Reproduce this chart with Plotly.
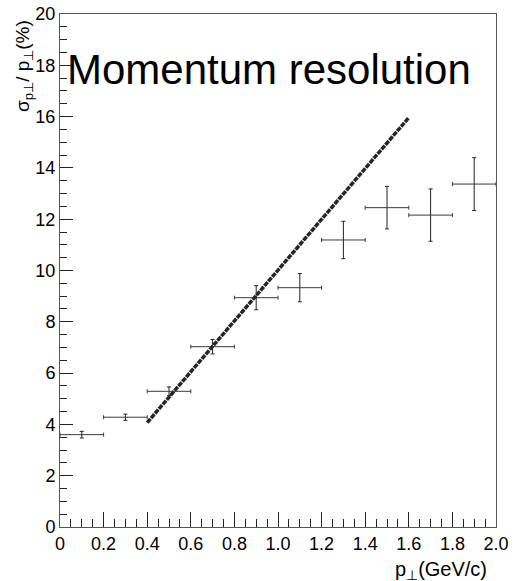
import plotly.graph_objects as go

# Data
bin_centers = [0.1, 0.3, 0.5, 0.7, 0.9, 1.1, 1.3, 1.5, 1.7, 1.9]
bin_half_width = [0.1] * 10
resolution = [3.60, 4.28, 5.29, 7.03, 8.94, 9.33, 11.19, 12.45, 12.16, 13.37]
resolution_err = [0.13, 0.12, 0.17, 0.28, 0.47, 0.55, 0.73, 0.83, 1.02, 1.03]

fit_x = [0.4, 1.6]
fit_y = [4.07, 15.96]

x_tickvals = [0, 0.2, 0.4, 0.6, 0.8, 1.0, 1.2, 1.4, 1.6, 1.8, 2.0]
x_ticktext = ["0", "0.2", "0.4", "0.6", "0.8", "1.0", "1.2", "1.4", "1.6", "1.8", "2.0"]
y_tickvals = [0, 2, 4, 6, 8, 10, 12, 14, 16, 18, 20]
y_ticktext = ["0", "2", "4", "6", "8", "10", "12", "14", "16", "18", "20"]

FONT = "Liberation Sans, Arial, Helvetica, sans-serif"

fig = go.Figure()
fig.add_trace(go.Scatter(
    x=bin_centers, y=resolution, mode="markers",
    marker=dict(size=1, color="rgba(0,0,0,0)"),
    error_x=dict(type="data", array=bin_half_width, color="#3a3a3a", thickness=1, width=2),
    error_y=dict(type="data", array=resolution_err, color="#222222", thickness=1, width=2),
    showlegend=False, hoverinfo="skip",
))
fig.add_trace(go.Scatter(
    x=fit_x, y=fit_y, mode="lines",
    line=dict(color="#262626", width=3.5, dash="5px,1px"),
    showlegend=False, hoverinfo="skip",
))

fig.update_layout(
    width=515, height=581,
    margin=dict(l=60, r=19, t=14, b=54),
    paper_bgcolor="white", plot_bgcolor="white",
    font=dict(family=FONT, color="#000000", size=18),
)
fig.update_xaxes(
    range=[0, 2.0], tickvals=x_tickvals, ticktext=x_ticktext,
    ticks="inside", ticklen=15, tickwidth=1, tickcolor="#222",
    minor=dict(ticks="inside", dtick=0.05, ticklen=8, tickcolor="#222", tickwidth=1),
    showline=True, linecolor="#555", linewidth=1, mirror=True,
    showgrid=False, zeroline=False, tickfont=dict(size=18), automargin=False,
)
fig.update_yaxes(
    range=[0, 20], tickvals=y_tickvals, ticktext=y_ticktext,
    ticks="inside", ticklen=13, tickwidth=1, tickcolor="#222",
    minor=dict(ticks="inside", dtick=0.5, ticklen=7, tickcolor="#222", tickwidth=1),
    showline=True, linecolor="#555", linewidth=1, mirror=True,
    showgrid=False, zeroline=False, tickfont=dict(size=18), ticklabelstandoff=0,
    automargin=False,
)

fig.add_annotation(
    text="Momentum resolution", xref="paper", yref="paper",
    x=0.012, y=0.856, xanchor="left", yanchor="bottom", showarrow=False,
    font=dict(size=42, family=FONT, color="#000"), yshift=-7,
)
fig.add_annotation(
    text="p<sub>⊥</sub>(GeV/c)", xref="paper", yref="paper",
    x=0.985, y=0, xanchor="right", yanchor="top", showarrow=False,
    font=dict(size=20, family=FONT, color="#000"), yshift=-29,
)
fig.add_annotation(
    text="σ<sub>p⊥</sub>/ p<sub>⊥</sub>(%)", xref="paper", yref="paper",
    x=0, y=1, xanchor="center", yanchor="top", showarrow=False, textangle=-90,
    font=dict(size=19, family=FONT, color="#000"), xshift=-36, yshift=-4,
)

fig.write_html("out.html")
